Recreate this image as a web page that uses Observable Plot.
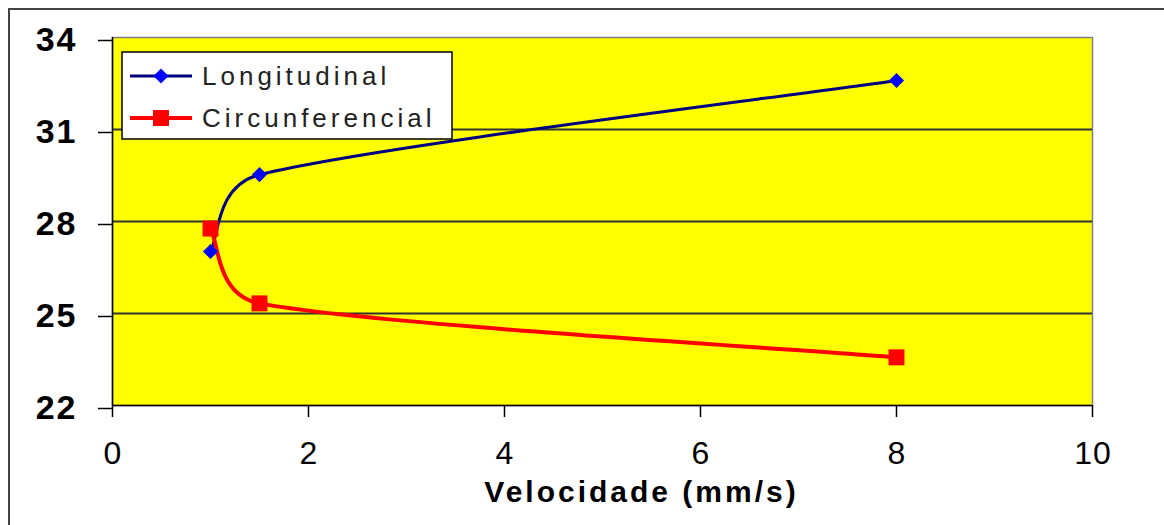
<!DOCTYPE html>
<html><head><meta charset="utf-8">
<script src="https://cdn.jsdelivr.net/npm/d3@7"></script>
<script src="https://cdn.jsdelivr.net/npm/@observablehq/plot@0.6"></script>
<style>
html,body{margin:0;padding:0;background:#fff;overflow:hidden;}
#wrap{position:relative;width:1164px;height:525px;overflow:hidden;}
#border{position:absolute;left:8px;top:8px;width:1200px;height:600px;border:2px solid #444;box-sizing:border-box;}
#chart{position:absolute;left:0;top:0;}
</style></head><body>
<div id="wrap"><div id="border"></div><div id="chart"></div></div>
<script>
// ---- data ----
const velocidade = [1, 1.5, 8];
const longitudinal = [27.02, 29.53, 32.6];
const circunferencial = [27.77, 25.33, 23.57];
const seriesNames = ["Longitudinal", "Circunferencial"];
const lineColors = ["#000080", "#ff0000"];
const markerColors = ["#0000ff", "#ff0000"];
const markerSymbols = ["diamond2", "square"];
const xTicks = [0, 2, 4, 6, 8, 10];
const yTicks = [22, 25, 28, 31, 34];
const xTitle = "Velocidade (mm/s)";

const longRows = velocidade.map((v, i) => ({serie: seriesNames[0], x: v, y: longitudinal[i]}));
const circRows = velocidade.map((v, i) => ({serie: seriesNames[1], x: v, y: circunferencial[i]}));

const font = "'Liberation Sans', Arial, sans-serif";

// Spreadsheet-style smoothed line: cubic Bézier with 1/6 tangents,
// limited to half of each segment's length.
function smoothCurve(context) {
  let pts;
  return {
    areaStart() {}, areaEnd() {},
    lineStart() { pts = []; },
    point(x, y) { pts.push([+x, +y]); },
    lineEnd() {
      const n = pts.length;
      if (!n) return;
      context.moveTo(pts[0][0], pts[0][1]);
      for (let i = 0; i < n - 1; i++) {
        const p0 = pts[Math.max(0, i - 1)], p1 = pts[i], p2 = pts[i + 1], p3 = pts[Math.min(n - 1, i + 2)];
        const seg = Math.hypot(p2[0] - p1[0], p2[1] - p1[1]);
        const v1 = [p2[0] - p0[0], p2[1] - p0[1]], v2 = [p3[0] - p1[0], p3[1] - p1[1]];
        const l1 = Math.hypot(v1[0], v1[1]), l2 = Math.hypot(v2[0], v2[1]);
        const f1 = l1 ? Math.min(1 / 6, seg / (2 * l1)) : 0;
        const f2 = l2 ? Math.min(1 / 6, seg / (2 * l2)) : 0;
        context.bezierCurveTo(p1[0] + v1[0] * f1, p1[1] + v1[1] * f1,
                              p2[0] - v2[0] * f2, p2[1] - v2[1] * f2, p2[0], p2[1]);
      }
    }
  };
}

const chart = Plot.plot({
  width: 1164, height: 525,
  marginLeft: 112, marginRight: 72, marginTop: 37, marginBottom: 120,
  style: {fontFamily: font, background: "transparent", color: "#000", overflow: "visible"},
  x: {domain: [0, 10], ticks: xTicks},
  y: {domain: [22, 34], ticks: yTicks},
  marks: [
    Plot.frame({fill: "#ffff00", stroke: "#808080", strokeWidth: 1.5}),
    Plot.gridY(yTicks.slice(1, -1), {stroke: "#333", strokeOpacity: 1, strokeWidth: 2}),
    Plot.ruleX([0], {stroke: "#000", strokeWidth: 1.5}),
    Plot.ruleY([22], {stroke: "#000", strokeWidth: 1.5}),
    Plot.axisY(yTicks, {tickSize: 14, tickPadding: 21, dy: 3, fontSize: 34, fontWeight: "bold", label: null, strokeWidth: 1.5}),
    Plot.axisX(xTicks, {tickSize: 12, tickPadding: 24, fontSize: 32, label: null, strokeWidth: 1.5}),
    Plot.line(longRows, {x: "x", y: "y", stroke: lineColors[0], strokeWidth: 3, curve: smoothCurve}),
    Plot.line(circRows, {x: "x", y: "y", stroke: lineColors[1], strokeWidth: 4, curve: smoothCurve}),
    Plot.dot(longRows, {x: "x", y: "y", symbol: markerSymbols[0], r: 6.8, fill: markerColors[0], stroke: "none"}),
    Plot.dot(circRows, {x: "x", y: "y", symbol: markerSymbols[1], r: 9, fill: markerColors[1], stroke: "none"}),
    Plot.text([xTitle], {frameAnchor: "bottom", dy: 96, dx: 39, fontSize: 30, fontWeight: "bold", fill: "#000"})
  ]
});
document.getElementById("chart").appendChild(chart);

const svg = d3.select(chart);
svg.selectAll("text").filter(function () { return this.textContent === xTitle; }).attr("letter-spacing", 3);
svg.selectAll("g[aria-label='y-axis tick label'] text").attr("letter-spacing", 2);
svg.selectAll("g[aria-label='x-axis tick label'] text").attr("letter-spacing", 1).attr("dx", 0.5);

// ---- legend ----
const lg = svg.append("g").attr("class", "legend");
lg.append("rect").attr("x", 122).attr("y", 52).attr("width", 330).attr("height", 87)
  .attr("fill", "#fff").attr("stroke", "#000").attr("stroke-width", 1.5);
const symMap = {diamond2: d3.symbolDiamond2, square: d3.symbolSquare};
const rs = [6.8, 9];
seriesNames.forEach((name, i) => {
  const cy = 76 + i * 42;
  lg.append("line").attr("x1", 130).attr("x2", 192).attr("y1", cy).attr("y2", cy)
    .attr("stroke", lineColors[i]).attr("stroke-width", i === 0 ? 3 : 4);
  lg.append("path").attr("transform", `translate(161,${cy})`)
    .attr("d", d3.symbol(symMap[markerSymbols[i]], rs[i] * rs[i] * Math.PI)())
    .attr("fill", markerColors[i]);
  lg.append("text").attr("x", 202).attr("y", cy).attr("dy", "0.36em")
    .attr("text-anchor", "start")
    .attr("font-size", 26).attr("letter-spacing", 4).attr("fill", "#222")
    .attr("font-family", font).text(name);
});
</script>
</body></html>
